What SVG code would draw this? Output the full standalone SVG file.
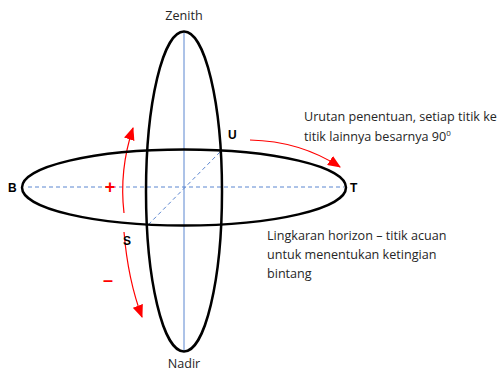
<svg xmlns="http://www.w3.org/2000/svg" width="498" height="371" viewBox="0 0 498 371">
<defs>
<marker id="ah" viewBox="0 0 12 10" refX="11" refY="5" markerWidth="13" markerHeight="11" orient="auto" markerUnits="userSpaceOnUse">
<path d="M0,0 L12,5 L0,10 z" fill="#FF0000"/>
</marker>
<style>
.ell{fill:none;stroke:#000;stroke-width:2.5}
.ax{stroke:#5B86D0;stroke-width:1;fill:none}
.dash{stroke-dasharray:4 3}
.arr{stroke:#FF0000;stroke-width:1.2;fill:none}
.lbl{font-family:"Liberation Sans",Arial,sans-serif;font-weight:bold;font-size:12px;fill:#000}
.txt{font-family:"Open Sans","Noto Sans",sans-serif;font-size:12.6px;fill:#262626}
.sign{font-family:"Liberation Sans",Arial,sans-serif;font-weight:bold;font-size:18px;fill:#FF0000}
</style>
</defs>
<rect width="498" height="371" fill="#fff"/>
<g id="connectors">
<line class="ax" x1="184" y1="33" x2="184" y2="351"/>
<line class="ax dash" x1="28" y1="187" x2="344" y2="187"/>
<line class="ax dash" x1="220" y1="152" x2="146" y2="227"/>
<path class="arr" d="M124,213 Q119,170 133,128" marker-end="url(#ah)"/>
<path class="arr" d="M124,232 Q128,280 142,317" marker-end="url(#ah)"/>
<path class="arr" d="M250,140 Q300,141 340,167" marker-end="url(#ah)"/>
</g>
<g id="vertical-circle"><ellipse class="ell" cx="184" cy="191.5" rx="38" ry="160"/></g>
<g id="horizon-circle"><ellipse class="ell" cx="184" cy="187.5" rx="162" ry="38"/></g>
<g id="zenith"><text class="txt" x="184" y="20" text-anchor="middle">Zenith</text></g>
<g id="nadir"><text class="txt" x="184" y="368" text-anchor="middle">Nadir</text></g>
<g id="B"><text class="lbl" x="8" y="192">B</text></g>
<g id="T"><text class="lbl" x="350" y="192">T</text></g>
<g id="U"><text class="lbl" x="228" y="139">U</text></g>
<g id="S"><text class="lbl" x="123" y="245">S</text></g>
<g id="plus"><text class="sign" x="110" y="193" text-anchor="middle">+</text></g>
<g id="minus"><text class="sign" x="108" y="286" text-anchor="middle">–</text></g>
<g id="note-order"><text class="txt" x="304" y="121">Urutan penentuan, setiap titik ke</text>
<text class="txt" x="304" y="141">titik lainnya besarnya 90<tspan font-size="8" dy="-5">0</tspan></text></g>
<g id="note-horizon"><text class="txt" x="267" y="240">Lingkaran horizon – titik acuan</text>
<text class="txt" x="267" y="259">untuk menentukan ketingian</text>
<text class="txt" x="267" y="278">bintang</text></g>
</svg>
